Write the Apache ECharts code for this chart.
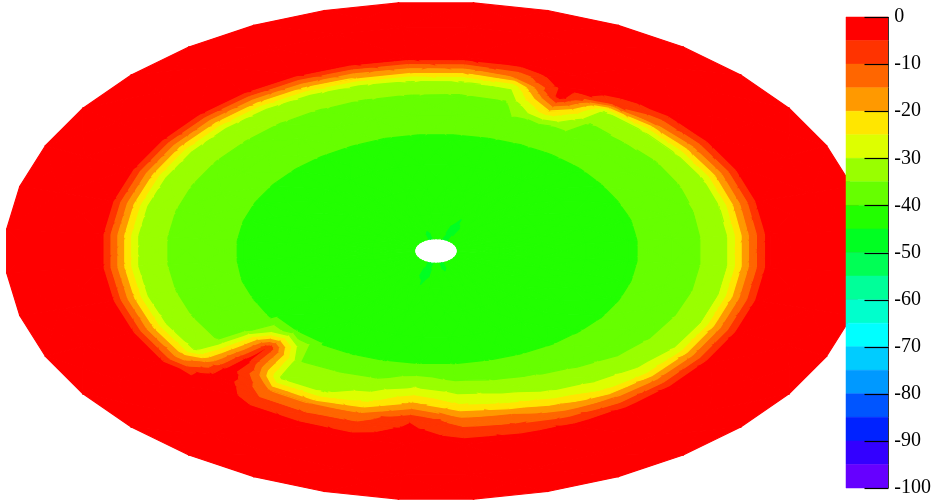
<!DOCTYPE html>
<html>
<head>
<meta charset="utf-8">
<script src="https://cdn.jsdelivr.net/npm/echarts@6/dist/echarts.min.js"></script>
<style>
  html, body { margin: 0; padding: 0; background: #ffffff; }
  #chart { width: 934px; height: 501px; }
</style>
</head>
<body>
<div id="chart"></div>
<script>
// Polar grid: node angles (degrees) and node radii (relative to the outer rim)
const phiNodes = [5, 15, 25, 35, 45, 55, 65, 75, 85, 95, 105, 115, 125, 135, 145, 155, 165, 175,
                  185, 195, 205, 215, 225, 235, 245, 255, 265, 275, 285, 295, 305, 315, 325, 335, 345, 355];
const rNodes = [0.05, 0.15, 0.25, 0.35, 0.45, 0.55, 0.62, 0.68, 0.72, 0.78, 0.9, 1.0];

// Measured value at every node, one row per angle (columns follow rNodes)
const zByPhi = [
  [-43.4, -43.1, -42.7, -42.0, -40.6, -37.3, -34.8, -29.8, -17.0, -1.0, -0.7, -0.3], //   5
  [-43.5, -43.1, -42.7, -42.1, -40.6, -37.4, -34.9, -30.2, -17.5, -1.1, -0.7, -0.3], //  15
  [-43.5, -43.2, -42.8, -42.1, -40.5, -37.5, -35.2, -30.8, -18.0, -1.2, -0.8, -0.4], //  25
  [-43.6, -43.2, -42.8, -42.2, -40.5, -37.6, -35.3, -30.0, -17.0, -1.0, -0.7, -0.4], //  35
  [-43.8, -43.3, -42.8, -42.2, -40.6, -37.6, -34.8, -30.0, -15.0, -0.6, -0.5, -0.3], //  45
  [-44.8, -43.5, -42.9, -42.2, -40.6, -37.7, -35.3, -31.0, -8.0, -0.8, -0.4, -0.3],  //  55
  [-48.0, -44.6, -42.8, -42.2, -40.5, -38.0, -20.0, -3.0, -1.5, -1.0, -0.8, -0.4],   //  65
  [-44.8, -43.4, -42.8, -42.2, -40.5, -37.8, -35.3, -29.0, -15.0, -1.0, -0.4, -0.3], //  75
  [-43.5, -43.2, -42.8, -42.2, -40.5, -37.8, -35.9, -30.6, -19.0, -1.0, -0.8, -0.4], //  85
  [-43.9, -43.1, -42.8, -42.2, -40.5, -37.8, -35.7, -30.9, -19.5, -1.1, -0.8, -0.4], //  95
  [-45.8, -43.2, -42.7, -42.1, -40.5, -37.6, -35.5, -32.0, -20.0, -1.5, -1.0, -0.5], // 105
  [-43.9, -43.1, -42.7, -42.1, -40.4, -37.5, -35.3, -33.0, -21.0, -2.0, -1.2, -0.5], // 115
  [-43.5, -43.2, -42.8, -42.0, -40.4, -37.4, -35.2, -33.5, -21.5, -2.5, -1.4, -0.6], // 125
  [-43.5, -43.2, -42.8, -42.0, -40.4, -37.3, -35.1, -33.7, -21.5, -2.8, -1.5, -0.6], // 135
  [-43.5, -43.2, -42.8, -42.0, -40.4, -37.3, -35.1, -33.7, -21.6, -2.8, -1.5, -0.6], // 145
  [-43.4, -43.2, -42.8, -42.0, -40.4, -37.2, -35.1, -33.6, -21.4, -2.7, -1.5, -0.6], // 155
  [-43.4, -43.1, -42.8, -42.0, -40.4, -37.3, -35.1, -33.7, -21.5, -2.8, -1.5, -0.6], // 165
  [-43.5, -43.2, -42.8, -42.0, -40.4, -37.3, -35.1, -33.7, -21.5, -2.8, -1.5, -0.6], // 175
  [-43.5, -43.2, -42.8, -42.0, -40.4, -37.3, -35.1, -33.7, -21.5, -2.8, -1.5, -0.6], // 185
  [-43.6, -43.2, -42.8, -42.1, -40.5, -37.3, -35.1, -33.5, -21.2, -2.7, -1.5, -0.6], // 195
  [-43.6, -43.3, -42.9, -42.1, -40.5, -37.3, -35.1, -33.0, -21.0, -2.6, -1.4, -0.6], // 205
  [-43.6, -43.3, -42.9, -42.1, -40.6, -37.2, -35.0, -32.0, -20.0, -2.5, -1.4, -0.6], // 215
  [-44.0, -43.4, -43.0, -42.3, -40.8, -5.5, -2.5, -1.5, -1.2, -1.0, -0.8, -0.4],     // 225
  [-43.9, -43.3, -42.9, -42.2, -40.6, -34.5, -31.5, -15.0, -9.0, -1.5, -1.0, -0.5],  // 235
  [-44.8, -43.5, -42.9, -42.2, -40.5, -34.0, -30.5, -15.0, -9.0, -1.5, -1.0, -0.5],  // 245
  [-48.0, -44.6, -42.9, -42.1, -40.4, -33.5, -26.0, -13.0, -8.5, -2.0, -1.2, -0.5],  // 255
  [-44.8, -43.4, -42.9, -42.1, -40.3, -30.0, -18.0, -5.5, -3.5, -1.5, -1.0, -0.5],   // 265
  [-43.9, -43.3, -42.9, -42.1, -40.3, -33.0, -24.5, -13.0, -8.5, -2.0, -1.2, -0.5],  // 275
  [-45.8, -43.3, -42.9, -42.1, -40.3, -34.0, -27.0, -15.0, -9.5, -2.0, -1.2, -0.5],  // 285
  [-43.9, -43.2, -42.8, -42.1, -40.4, -35.0, -30.0, -20.0, -12.0, -1.8, -1.1, -0.5], // 295
  [-43.5, -43.2, -42.8, -42.1, -40.5, -36.0, -32.5, -25.0, -15.0, -1.5, -1.0, -0.4], // 305
  [-43.5, -43.2, -42.8, -42.0, -40.5, -36.8, -34.0, -28.0, -16.5, -1.2, -0.8, -0.4], // 315
  [-43.4, -43.1, -42.7, -42.0, -40.6, -37.1, -34.5, -29.5, -17.0, -1.0, -0.7, -0.3], // 325
  [-43.4, -43.1, -42.7, -42.0, -40.6, -37.2, -34.7, -29.8, -17.0, -1.0, -0.7, -0.3], // 335
  [-43.4, -43.1, -42.7, -42.0, -40.6, -37.3, -34.8, -29.8, -17.0, -1.0, -0.7, -0.3], // 345
  [-43.4, -43.1, -42.7, -42.0, -40.6, -37.3, -34.8, -29.8, -17.0, -1.0, -0.7, -0.3]  // 355
];

// Contour levels (top of the scale first) and the fill colour of each band
const levels = [0, -5, -10, -15, -20, -25, -30, -35, -40, -45, -50,
                -55, -60, -65, -70, -75, -80, -85, -90, -95, -100];
const bandColors = ['#ff0000', '#ff3300', '#ff6600', '#ff9900', '#ffe600',
                    '#ddff00', '#99ff00', '#66ff00', '#22ff00', '#00ff22',
                    '#00ff55', '#00ff99', '#00ffcc', '#00ffff', '#00ccff',
                    '#0099ff', '#0055ff', '#0022ff', '#3300ff', '#6600ff'];
// Labelled step of the colour scale
const scaleStep = 10;

// ---- filled contours: linear interpolation over triangles of the polar mesh ----
function nodeAt(j, i) {
  const a = phiNodes[j] * Math.PI / 180;
  const r = rNodes[i];
  return { x: r * Math.cos(a), y: r * Math.sin(a), v: zByPhi[j][i] };
}

function clip(poly, f) {
  const out = [];
  for (let k = 0; k < poly.length; k++) {
    const P = poly[k], Q = poly[(k + 1) % poly.length];
    const fp = f(P.v), fq = f(Q.v);
    if (fp >= 0) out.push(P);
    if ((fp >= 0) !== (fq >= 0)) {
      const t = fp / (fp - fq);
      out.push({ x: P.x + t * (Q.x - P.x), y: P.y + t * (Q.y - P.y), v: P.v + t * (Q.v - P.v) });
    }
  }
  return out;
}

const bandPolys = [];
function addTriangle(tri) {
  for (let k = 0; k < bandColors.length; k++) {
    const hi = levels[k], lo = levels[k + 1];
    let p = clip(tri, v => v - lo);
    if (p.length < 3) continue;
    p = clip(p, v => hi - v);
    if (p.length < 3) continue;
    bandPolys.push({ band: k, pts: p.map(q => [q.x, q.y]) });
  }
}

// every mesh cell is split into four triangles around its centre point
const nPhi = phiNodes.length, nR = rNodes.length;
for (let j = 0; j < nPhi; j++) {
  const j2 = (j + 1) % nPhi;
  for (let i = 0; i < nR - 1; i++) {
    const a = nodeAt(j, i), b = nodeAt(j2, i), c = nodeAt(j2, i + 1), d = nodeAt(j, i + 1);
    const m = {
      x: (a.x + b.x + c.x + d.x) / 4,
      y: (a.y + b.y + c.y + d.y) / 4,
      v: (a.v + b.v + c.v + d.v) / 4
    };
    addTriangle([a, b, m]);
    addTriangle([b, c, m]);
    addTriangle([c, d, m]);
    addTriangle([d, a, m]);
  }
}

// colour scale entries: [bandIndex, low, high]
const scaleBands = bandColors.map((c, k) => [k, levels[k + 1], levels[k]]);
const tickLen = 24;

const chart = echarts.init(document.getElementById('chart'), null, { renderer: 'canvas' });
chart.setOption({
  backgroundColor: '#ffffff',
  animation: false,
  grid: [
    { left: 5, right: 67, top: 2, bottom: 1 },
    { left: 846, width: 45, top: 17, height: 471 }
  ],
  xAxis: [
    { type: 'value', gridIndex: 0, min: -1, max: 1, show: false },
    { type: 'value', gridIndex: 1, min: 0, max: 1, show: false }
  ],
  yAxis: [
    { type: 'value', gridIndex: 0, min: -1, max: 1, show: false },
    {
      type: 'value', gridIndex: 1, min: -100, max: 0, interval: scaleStep, position: 'right',
      axisLine: { show: false, onZero: false },
      axisTick: { show: false },
      axisLabel: { show: true, color: '#000000', fontSize: 20, fontFamily: 'Liberation Serif', margin: 6,
                   showMinLabel: true, showMaxLabel: true },
      splitLine: { show: false }
    }
  ],
  series: [
    {
      type: 'custom',
      xAxisIndex: 0, yAxisIndex: 0,
      silent: true,
      z: 2,
      data: bandPolys.map(() => [0, 0]),
      renderItem: function (params, api) {
        const p = bandPolys[params.dataIndex];
        const col = bandColors[p.band];
        return {
          type: 'polygon',
          shape: { points: p.pts.map(q => api.coord(q)) },
          style: { fill: col, stroke: col, lineWidth: 1.2, lineJoin: 'round' }
        };
      }
    },
    {
      // colour scale: one block per band, with the frame line and ticks on its right edge
      type: 'custom',
      xAxisIndex: 1, yAxisIndex: 1,
      silent: true,
      z: 5,
      data: scaleBands,
      renderItem: function (params, api) {
        const k = api.value(0), lo = api.value(1), hi = api.value(2);
        const p1 = api.coord([0, hi]);
        const p2 = api.coord([1, lo]);
        const xr = Math.round(p2[0]) + 0.5;
        const children = [{
          type: 'rect',
          shape: { x: p1[0], y: p1[1], width: p2[0] - p1[0], height: p2[1] - p1[1] },
          style: { fill: bandColors[k], stroke: bandColors[k], lineWidth: 0.5 }
        }, {
          type: 'line', z2: 10,
          shape: { x1: xr, y1: p1[1], x2: xr, y2: p2[1] },
          style: { stroke: '#333333', lineWidth: 1 }
        }];
        if (hi % scaleStep === 0) {
          const yt = Math.round(p1[1]) + 0.5;
          children.push({ type: 'line', z2: 11,
            shape: { x1: xr - tickLen, y1: yt, x2: xr, y2: yt },
            style: { stroke: '#000000', lineWidth: 1.2 } });
        }
        if (lo % scaleStep === 0 && lo === levels[levels.length - 1]) {
          const yb = Math.round(p2[1]) + 0.5;
          children.push({ type: 'line', z2: 11,
            shape: { x1: xr - tickLen, y1: yb, x2: xr, y2: yb },
            style: { stroke: '#000000', lineWidth: 1.2 } });
        }
        return { type: 'group', children: children };
      }
    }
  ]
});
</script>
</body>
</html>
